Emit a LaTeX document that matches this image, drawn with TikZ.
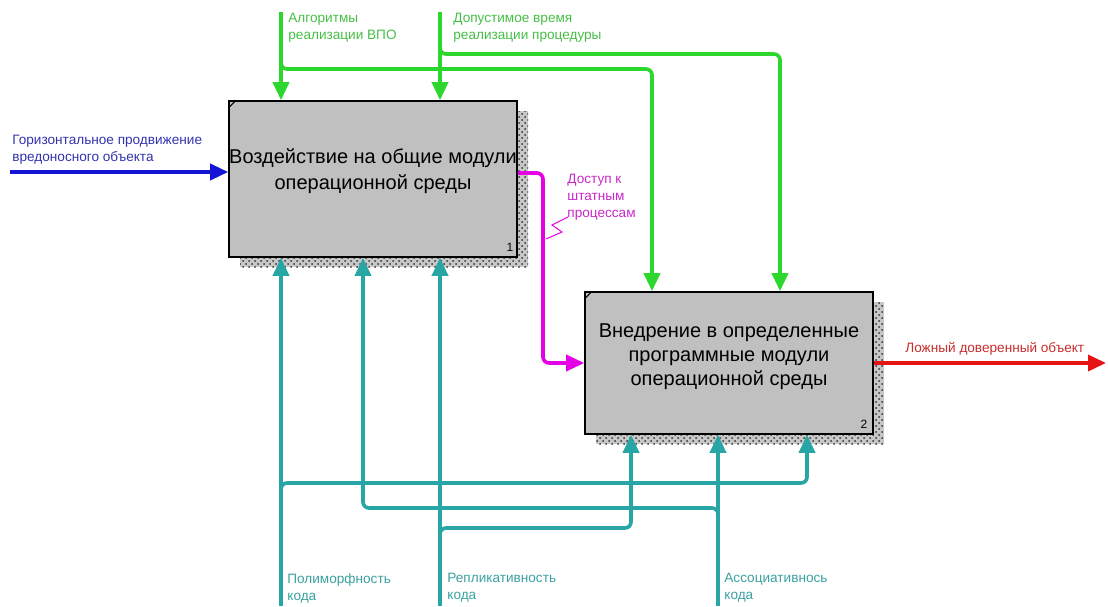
\documentclass[tikz,border=0pt]{standalone}
\usepackage{fontspec}
\setmainfont{Liberation Sans}
\usetikzlibrary{arrows.meta,patterns}
\definecolor{grLine}{RGB}{45,215,45}
\definecolor{grText}{RGB}{70,190,70}
\definecolor{blLine}{RGB}{20,20,215}
\definecolor{blText}{RGB}{50,50,175}
\definecolor{mgLine}{RGB}{230,0,230}
\definecolor{mgText}{RGB}{200,40,200}
\definecolor{rdLine}{RGB}{230,20,20}
\definecolor{rdText}{RGB}{200,45,45}
\definecolor{tlLine}{RGB}{40,165,165}
\definecolor{tlText}{RGB}{60,160,160}
\definecolor{boxFill}{RGB}{192,192,192}
\tikzset{
  flow/.style={line width=1.8pt, rounded corners=3pt},
  tip/.style={-{Triangle[width=8pt,length=9pt]}},
  activity/.style={draw=black, line width=0.8pt, fill=boxFill, minimum width=144pt, inner sep=0pt},
  caption/.style={align=center, inner sep=0pt},
  lbl/.style={anchor=north west, inner sep=0pt, align=left, font=\fontsize{6.8}{8.5}\selectfont},
  num/.style={inner sep=0pt, font=\fontsize{6}{7}\selectfont},
  shadebase/.style={fill=black!22},
  shade/.style={pattern=crosshatch dots, pattern color=black!80}
}
\begin{document}
\begin{tikzpicture}[x=0.5pt,y=-0.5pt]
\useasboundingbox (0,0) rectangle (1108,606);

% shadows of the two activity boxes
\path[shadebase] (240,111) rectangle (528,267);
\path[shade] (240,111) rectangle (528,267);
\path[shadebase] (596,302) rectangle (884,444);
\path[shade] (596,302) rectangle (884,444);

% activity boxes
\node[activity, minimum height=78pt] (b1) at (373,179) {};
\node[activity, minimum height=71pt] (b2) at (729,363) {};
\node[caption, font=\fontsize{10}{13}\selectfont] (c1) at (373,171) {Воздействие на общие модули\\операционной среды};
\node[caption, font=\fontsize{10}{12}\selectfont] (c2) at (729,357) {Внедрение в определенные\\программные модули\\операционной среды};
\draw[line width=0.5pt] ([yshift=-4pt]b1.north west) -- ([xshift=4pt]b1.north west);
\draw[line width=0.5pt] ([yshift=-4pt]b2.north west) -- ([xshift=4pt]b2.north west);
\node[num, anchor=south east] (n1) at ([xshift=-2pt,yshift=3pt]b1.south east) {1};
\node[num, anchor=south east] (n2) at ([xshift=-3pt,yshift=3pt]b2.south east) {2};

% controls from the top
\coordinate (ctlA) at (281,12);
\coordinate (ctlT) at (440,12);
\draw[flow, tip, grLine] (ctlA) -- (ctlA |- b1.north);
\draw[flow, tip, grLine] (ctlT) -- (ctlT |- b1.north);
\draw[flow, tip, grLine] (281,58) -- (281,69) -- (652,69) -- (652,69 |- b2.north);
\draw[flow, tip, grLine] (440,43) -- (440,54) -- (780,54) -- (780,54 |- b2.north);
\node[lbl, text=grText] (tA) at (288,13) {Алгоритмы\\реализации ВПО};
\node[lbl, text=grText] (tT) at (453,13) {Допустимое время\\реализации процедуры};

% input from the left
\coordinate (inH) at (10,172);
\draw[flow, tip, blLine] (inH) -- (inH -| b1.west);
\node[lbl, text=blText] (tH) at (12,135) {Горизонтальное продвижение\\вредоносного объекта};

% link between the activities
\draw[flow, tip, mgLine] (b1.east |- 0,173) -- (543,173) -- (543,363) -- (b2.west);
\draw[mgLine, line width=0.5pt] (568,217) -- (552,225) -- (562,232) -- (546,239);
\node[lbl, text=mgText] (tD) at (567,174) {Доступ к\\штатным\\процессам};

% output to the right
\coordinate (outF) at (1106,363);
\draw[flow, tip, rdLine] (b2.east) -- (outF);
\node[lbl, text=rdText] (tF) at (905,342) {Ложный доверенный объект};

% mechanisms from the bottom
\coordinate (mP) at (281,606);
\coordinate (mR) at (440,606);
\coordinate (mS) at (718,606);
\draw[flow, tip, tlLine] (mP) -- (mP |- b1.south);
\draw[flow, tip, tlLine] (mR) -- (mR |- b1.south);
\draw[flow, tip, tlLine] (mS) -- (mS |- b2.south);
\draw[flow, tip, tlLine] (281,494) -- (281,483) -- (807,483) -- (807,483 |- b2.south);
\draw[flow, tip, tlLine] (440,539) -- (440,528) -- (631,528) -- (631,528 |- b2.south);
\draw[flow, tip, tlLine] (718,519) -- (718,508) -- (363,508) -- (363,508 |- b1.south);
\node[lbl, text=tlText] (tP) at (287,573) {Полиморфность\\кода};
\node[lbl, text=tlText] (tR) at (447,573) {Репликативность\\кода};
\node[lbl, text=tlText] (tS) at (724,573) {Ассоциативнось\\кода};
\end{tikzpicture}
\end{document}
